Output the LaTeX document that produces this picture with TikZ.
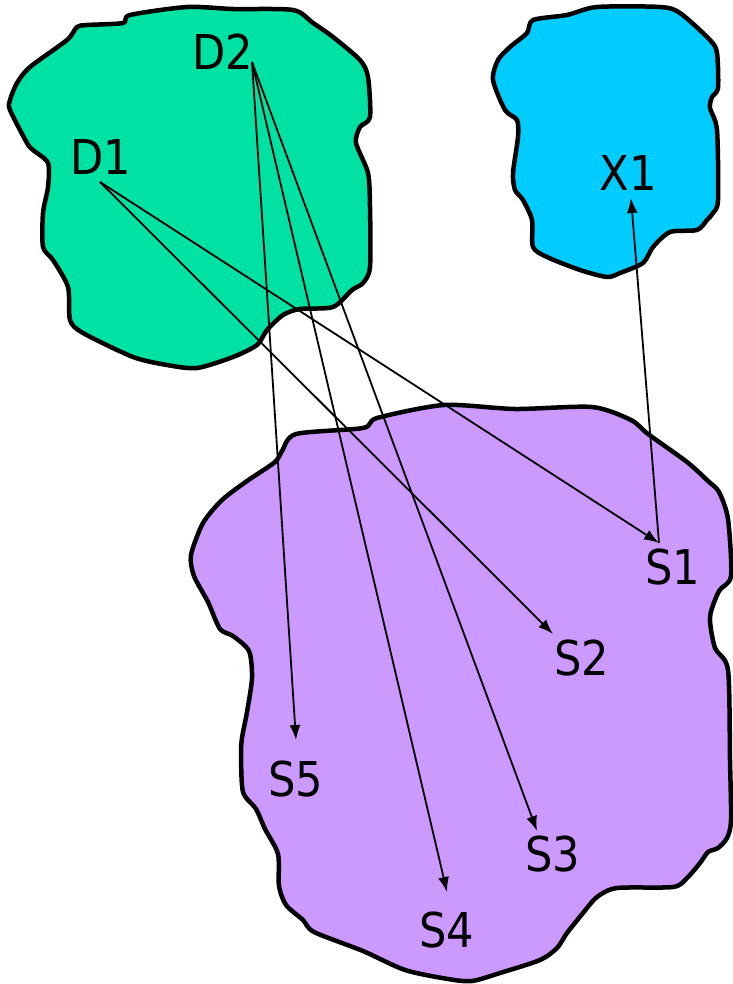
\documentclass[tikz,border=0pt]{standalone}
\usepackage{fontspec}
\setmainfont{DejaVu Sans Condensed}
\usetikzlibrary{arrows.meta}
\definecolor{blobgreen}{RGB}{0,226,164}
\definecolor{blobblue}{RGB}{0,204,255}
\definecolor{blobpurple}{RGB}{204,153,255}
\tikzset{
  blob/.style={draw=black, line width=4.5pt, line join=round},
  lbl/.style={inner sep=0pt, anchor=base, font=\fontsize{48}{48}\selectfont},
  conn/.style={line width=1.8pt, -{Latex[length=15pt,width=11pt]}}
}
\begin{document}
\begin{tikzpicture}[x=1pt,y=-1pt]
\useasboundingbox (0,0) rectangle (732,984);
% green blob
\filldraw[blob, fill=blobgreen] plot[smooth cycle, tension=0.45] coordinates {
(130,15) (187,7) (233,9) (293,10) (313,23) (333,37) (360,60) (368,77) (370,117) (360,127) (356,143) (368,173) (370,207) (370,267) (363,283) (352,290) (333,307) (300,309) (283,315) (267,330) (257,345) (233,357) (197,368) (167,365) (133,357) (83,333) (70,320) (68,287) (53,260) (43,247) (43,213) (48,187) (48,163) (33,150) (27,143) (10,110) (10,100) (17,83) (30,67) (67,40) (77,27) (87,25) (123,23)};
% blue blob
\filldraw[blob, fill=blobblue] plot[smooth cycle, tension=0.45] coordinates {
(533,20) (567,15) (597,7) (660,7) (680,13) (710,40) (717,53) (718,88) (712,97) (710,108) (717,130) (718,200) (713,213) (707,220) (697,230) (670,232) (653,247) (643,263) (620,273) (607,277) (580,270) (547,257) (533,247) (532,220) (523,200) (515,190) (513,173) (518,137) (517,120) (505,110) (493,80) (498,60) (510,47) (527,33)};
% purple blob
\filldraw[blob, fill=blobpurple] plot[smooth cycle, tension=0.45] coordinates {
(296,434) (363,428) (377,418) (444,405) (515,409) (592,407) (631,420) (648,434) (687,462) (708,481) (719,492) (728,519) (731,576) (719,591) (710,617) (715,648) (728,670) (730,760) (731,820) (727,838) (718,848) (708,852) (700,863) (687,878) (673,887) (617,888) (597,897) (583,913) (567,933) (557,948) (540,960) (500,973) (472,981) (448,979) (405,970) (363,951) (314,932) (303,920) (286,905) (279,886) (278,854) (265,829) (256,809) (243,792) (241,754) (242,738) (247,712) (252,678) (249,651) (233,636) (220,629) (208,602) (194,576) (191,555) (203,523) (222,500) (247,481) (275,462) (282,451)};
% labels
\node[lbl] (D1) at (101,175) {D1};
\node[lbl] (D2) at (223,70) {D2};
\node[lbl] (X1) at (628,191) {X1};
\node[lbl] (S1) at (673,584) {S1};
\node[lbl] (S2) at (582,675) {S2};
\node[lbl] (S3) at (553,871) {S3};
\node[lbl] (S4) at (447,947) {S4};
\node[lbl] (S5) at (296,796) {S5};
% connector end points
\coordinate (d1o) at (100,182);
\coordinate (d2o) at (252,62);
\coordinate (x1i) at (631,198);
\coordinate (s1i) at (659,543);
\coordinate (s2i) at (553,634);
\coordinate (s3i) at (537,831);
\coordinate (s4i) at (447,892);
\coordinate (s5i) at (296,740);
% connectors
\draw[conn] (d1o) -- (s1i);
\draw[conn] (d1o) -- (s2i);
\draw[conn] (d2o) -- (s3i);
\draw[conn] (d2o) -- (s4i);
\draw[conn] (d2o) -- (s5i);
\draw[conn] (s1i) -- (x1i);
\end{tikzpicture}
\end{document}
